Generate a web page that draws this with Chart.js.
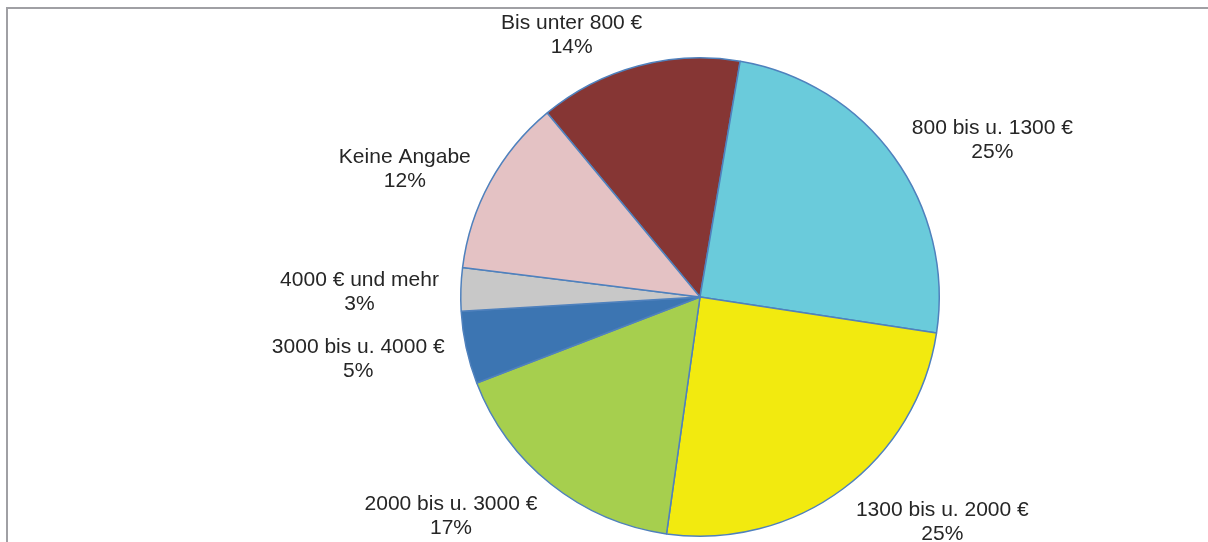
<!DOCTYPE html>
<html>
<head>
<meta charset="utf-8">
<script src="https://cdn.jsdelivr.net/npm/chart.js@4.4.1/dist/chart.umd.min.js"></script>
<style>
  html, body { margin: 0; padding: 0; background: #ffffff; }
  #wrap { position: relative; width: 1208px; height: 542px; overflow: hidden; }
  #frame { position: absolute; left: 6px; top: 7px; width: 1210px; height: 600px;
           border-left: 2px solid #a0a0a4; border-top: 2px solid #a0a0a4; box-sizing: border-box; }
  canvas { position: absolute; left: 0; top: 0; }
</style>
</head>
<body>
<div id="wrap">
  <div id="frame"></div>
  <canvas id="c" width="1208" height="542"></canvas>
</div>
<script>
// ---- data ----
const categories = [
  "Bis unter 800 €",
  "800 bis u. 1300 €",
  "1300 bis u. 2000 €",
  "2000 bis u. 3000 €",
  "3000 bis u. 4000 €",
  "4000 € und mehr",
  "Keine Angabe"
];
const shares = [13.7, 24.7, 24.8, 16.9, 4.9, 2.9, 12.0];
const sliceColors = ["#863634", "#6acbdb", "#f2ea0f", "#a6cf4e", "#3c75b2", "#c8c8c8", "#e4c2c4"];

const FONT = '21px "Liberation Sans", Arial, sans-serif';
const LINE_H = 24;

const outsideLabels = {
  id: 'outsideLabels',
  afterDatasetsDraw(chart) {
    const ctx = chart.ctx;
    const meta = chart.getDatasetMeta(0);
    const total = shares.reduce((a, b) => a + b, 0);
    ctx.save();
    ctx.font = FONT;
    ctx.fillStyle = '#262626';
    ctx.textAlign = 'center';
    ctx.textBaseline = 'middle';
    meta.data.forEach((arc, i) => {
      const p = arc.getProps(['x', 'y', 'startAngle', 'endAngle', 'outerRadius'], true);
      const mid = (p.startAngle + p.endAngle) / 2;
      const r = p.outerRadius + 12;
      const px = p.x + Math.cos(mid) * r;
      const py = p.y + Math.sin(mid) * r;
      const lines = [categories[i], Math.round(shares[i] / total * 100) + '%'];
      const w = Math.max(...lines.map(l => ctx.measureText(l).width));
      const h = LINE_H * lines.length;
      const c = Math.cos(mid), s = Math.sin(mid);
      const cx = px + Math.sign(c) * ((w / 2) * Math.min(1, 0.6 + Math.abs(c)) + 10 * Math.abs(c));
      const cy = py + s * h / 2 + 4;
      lines.forEach((l, k) => {
        ctx.fillText(l, cx, cy - h / 2 + LINE_H * (k + 0.5));
      });
    });
    ctx.restore();
  }
};

new Chart(document.getElementById('c'), {
  type: 'pie',
  data: {
    labels: categories,
    datasets: [{
      data: shares,
      backgroundColor: sliceColors,
      borderColor: '#4f81bd',
      borderWidth: 1.5
    }]
  },
  options: {
    responsive: false,
    animation: false,
    rotation: -39.7,
    layout: { padding: { left: 460, right: 268, top: 57, bottom: 5 } },
    plugins: {
      legend: { display: false },
      tooltip: { enabled: false }
    }
  },
  plugins: [outsideLabels]
});
</script>
</body>
</html>
